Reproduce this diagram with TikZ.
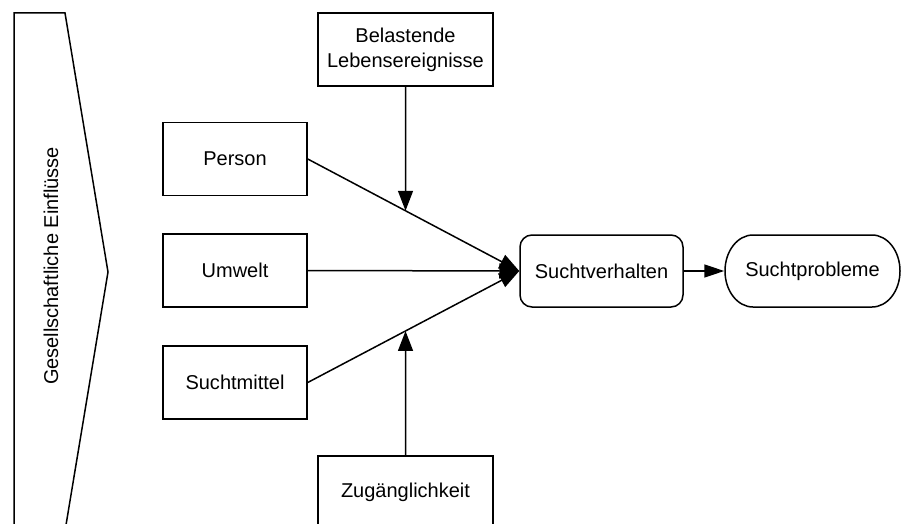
\documentclass[tikz,border=0pt]{standalone}
\usepackage{fontspec}
\setmainfont{Liberation Sans}
\usetikzlibrary{arrows.meta}
\begin{document}
\begin{tikzpicture}[x=0.5pt,y=-0.5pt,line width=0.75pt,
  lbl/.style={font=\fontsize{10}{12.5}\selectfont},
  box/.style={lbl,draw,rectangle,inner sep=0pt,align=center},
  smallbox/.style={box,minimum width=72pt,minimum height=36.5pt},
  widebox/.style={box,minimum width=87.5pt,minimum height=36.5pt},
  arr/.style={-{Triangle[length=10pt,width=7.5pt]}}]
\useasboundingbox (0,0) rectangle (909,524);
\clip (0,0) rectangle (909,524);
% chevron
\draw (14,13) -- (65,13) -- (108,272) -- (65,531) -- (14,531) -- cycle;
\node[lbl,rotate=90] (gl) at (51,266) {Gesellschaftliche Einflüsse};
% boxes
\node[smallbox] (person) at (235,159) {Person};
\node[smallbox] (umwelt) at (235,270.5) {Umwelt};
\node[smallbox] (mittel) at (235,382.5) {Suchtmittel};
\node[widebox] (bel) at (405.5,49.5) {Belastende\\Lebensereignisse};
\node[widebox] (zug) at (405.5,492.5) {Zugänglichkeit};
\node[box,rounded corners=6pt,minimum width=81.5pt,minimum height=36pt] (sv) at (601.5,271) {Suchtverhalten};
\node[lbl,inner sep=0pt,minimum width=87.5pt,minimum height=36pt] (sp) at (812.5,271) {Suchtprobleme};
\draw (753,235) -- (872,235)
  .. controls (887.5,235) and (900,251.1) .. (900,271)
  .. controls (900,290.9) and (887.5,307) .. (872,307)
  -- (753,307)
  .. controls (737.5,307) and (725,290.9) .. (725,271)
  .. controls (725,251.1) and (737.5,235) .. (753,235) -- cycle;
% connectors
\draw[arr] (person.east) -- (sv.west);
\draw[arr] (umwelt.east) -- (sv.west);
\draw[arr] (mittel.east) -- (sv.west);
\draw[arr] (bel.south) -- (intersection of bel.south--bel.north and person.east--sv.west);
\draw[arr] (zug.north) -- (intersection of zug.south--zug.north and mittel.east--sv.west);
\draw[-{Triangle[length=10pt,width=6.5pt]}] (sv.east) -- (sp.west);
\end{tikzpicture}
\end{document}
